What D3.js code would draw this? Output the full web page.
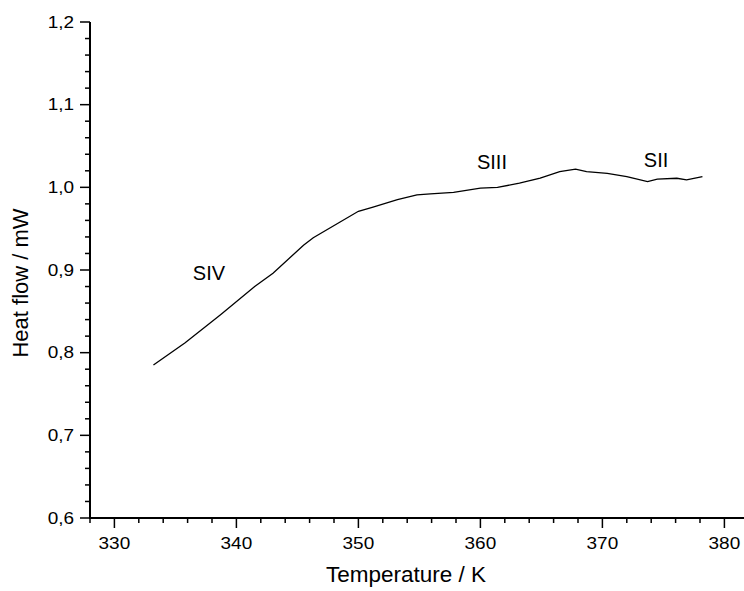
<html><head>
<title>Heat flow vs temperature</title>
<script src="https://d3js.org/d3.v7.min.js"></script>
<style>
  body { margin: 0; background: #fff; }
  svg text { font-family: "Liberation Sans", Arial, sans-serif; fill: #000; }
</style>
</head>
<body>
<svg id="chart" width="744" height="591"></svg>
<script>
  // curve
  const temps = [333.2, 335.8, 338.7, 341.5, 343.0, 345.5, 346.3, 348.5, 350.0, 351.2, 353.2, 354.8, 355.9,
                 357.8, 360.0, 361.4, 363.2, 364.9, 366.5, 367.8, 368.7, 370.4, 372.0, 373.7, 374.5, 376.1, 376.9, 378.2];
  const heat = [0.785, 0.812, 0.846, 0.880, 0.896, 0.930, 0.939, 0.958, 0.971, 0.976, 0.985, 0.991, 0.992,
                0.994, 0.999, 1.000, 1.005, 1.011, 1.019, 1.022, 1.019, 1.017, 1.013, 1.007, 1.010, 1.011, 1.009, 1.013];

  const xTicks = [330, 340, 350, 360, 370, 380];
  const yTicks = [0.6, 0.7, 0.8, 0.9, 1.0, 1.1, 1.2];

  const phaseNames = ["SIV", "SIII", "SII"];
  const phaseT = [337.75, 360.95, 374.4];
  const phaseH = [0.888, 1.022, 1.025];

  const svg = d3.select("svg#chart");

  const x = d3.scaleLinear().domain([328, 381.5]).range([90, 742.7]);
  const y = d3.scaleLinear().domain([0.6, 1.2]).range([518, 22]);

  const fmt = d => d3.format(".1f")(d).replace(".", ",");

  // x axis: major + minor ticks
  const xAxis = svg.append("g").attr("transform", "translate(0,518)");
  xAxis.append("line").attr("x1", 90).attr("x2", 744).attr("stroke", "#000").attr("stroke-width", 2);
  xAxis.selectAll("line.minor").data(d3.range(328, 382, 2).filter(t => t % 10 != 0))
    .join("line").attr("class", "minor")
    .attr("x1", d => x(d)).attr("x2", d => x(d)).attr("y1", 0).attr("y2", 5)
    .attr("stroke", "#000").attr("stroke-width", 1.5);
  xAxis.selectAll("line.major").data(xTicks)
    .join("line").attr("class", "major")
    .attr("x1", d => x(d)).attr("x2", d => x(d)).attr("y1", 0).attr("y2", 10)
    .attr("stroke", "#000").attr("stroke-width", 1.5);
  // tick labels in the reference are a bit wide, so stretch them sideways
  xAxis.selectAll("text").data(xTicks)
    .join("text")
    .attr("transform", d => `translate(${x(d)},31) scale(1.15,1)`)
    .attr("text-anchor", "middle").attr("font-size", 16.5)
    .text(d => d);

  // y axis
  const yAxis = svg.append("g").attr("transform", "translate(90,0)");
  yAxis.append("line").attr("y1", 22).attr("y2", 519).attr("stroke", "#000").attr("stroke-width", 2);
  yAxis.selectAll("line.minor").data(d3.range(0, 31).map(i => 0.6 + i * 0.02).filter((v, i) => i % 5 != 0))
    .join("line").attr("class", "minor")
    .attr("x1", -5).attr("x2", 0).attr("y1", d => y(d)).attr("y2", d => y(d))
    .attr("stroke", "#000").attr("stroke-width", 1.5);
  yAxis.selectAll("line.major").data(yTicks)
    .join("line").attr("class", "major")
    .attr("x1", -10).attr("x2", 0).attr("y1", d => y(d)).attr("y2", d => y(d))
    .attr("stroke", "#000").attr("stroke-width", 1.5);
  yAxis.selectAll("text").data(yTicks)
    .join("text")
    .attr("transform", d => `translate(-16,${y(d)}) scale(1.15,1)`)
    .attr("dy", "0.35em")
    .attr("text-anchor", "end").attr("font-size", 16.5)
    .text(d => fmt(d));

  // axis titles
  svg.append("text").attr("x", 406).attr("y", 582)
    .attr("text-anchor", "middle").attr("font-size", 22.5)
    .text("Temperature / K");
  svg.append("text")
    .attr("transform", "translate(28,283) rotate(-90)")
    .attr("text-anchor", "middle").attr("font-size", 22)
    .text("Heat flow / mW");

  // curve
  const pts = temps.map((t, i) => [t, heat[i]]);
  svg.append("path").datum(pts)
    .attr("fill", "none").attr("stroke", "#000").attr("stroke-width", 1.3)
    .attr("d", d3.line().x(d => x(d[0])).y(d => y(d[1])));

  // phase labels
  svg.selectAll("text.phase").data(phaseNames)
    .join("text").attr("class", "phase")
    .attr("x", (d, i) => x(phaseT[i])).attr("y", (d, i) => y(phaseH[i]))
    .attr("text-anchor", "middle").attr("font-size", 20)
    .text(d => d);
</script>
</body>
</html>
